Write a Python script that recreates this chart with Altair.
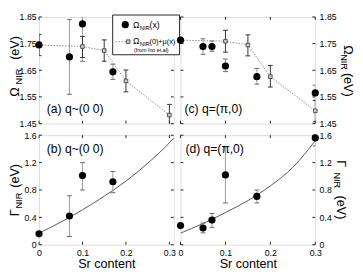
import altair as alt
import pandas as pd

# ---------------- data ----------------
sr_ticks = [0.0, 0.1, 0.2, 0.3]
om_ticks = [1.45, 1.55, 1.65, 1.75, 1.85]
gam_ticks = [0.0, 0.4, 0.8, 1.2, 1.6]

# (a) q~(0 0): Omega_NIR(x)
a_sr = [0.0, 0.07, 0.10, 0.17]
a_om = [1.745, 1.700, 1.824, 1.644]
a_lo = [None, 1.560, 1.684, 1.616]
a_hi = [None, 1.840, 1.964, 1.673]
# (a) Omega_NIR(0)+mu(x) (Ino et al.)
a_ino_sr = [0.0, 0.10, 0.15, 0.20, 0.30]
a_ino_om = [1.745, 1.739, 1.724, 1.610, 1.482]
a_ino_lo = [1.705, 1.698, 1.684, 1.569, 1.442]
a_ino_hi = [1.785, 1.777, 1.764, 1.651, 1.522]

# (c) q=(pi,0)
c_sr = [0.0, 0.05, 0.07, 0.10, 0.17, 0.30]
c_om = [1.763, 1.739, 1.739, 1.666, 1.626, 1.565]
c_lo = [None, 1.710, 1.721, 1.645, 1.598, 1.537]
c_hi = [None, 1.768, 1.760, 1.692, 1.657, 1.594]
c_ino_sr = [0.0, 0.10, 0.15, 0.20, 0.30]
c_ino_om = [1.763, 1.759, 1.745, 1.626, 1.498]
c_ino_lo = [None, 1.718, 1.704, 1.587, 1.457]
c_ino_hi = [None, 1.800, 1.783, 1.668, 1.537]

# (b) q~(0 0): Gamma_NIR
b_sr = [0.0, 0.07, 0.10, 0.17]
b_gam = [0.16, 0.42, 1.01, 0.92]
b_lo = [None, 0.12, 0.80, 0.76]
b_hi = [None, 0.715, 1.20, 1.07]
b_fit_sr = [0.0, 0.05, 0.10, 0.15, 0.20, 0.25, 0.30, 0.31]
b_fit_gam = [0.17, 0.33, 0.51, 0.71, 0.93, 1.19, 1.49, 1.56]

# (d) q=(pi,0): Gamma_NIR
d_sr = [0.0, 0.05, 0.07, 0.10, 0.17, 0.30]
d_gam = [0.28, 0.245, 0.36, 1.02, 0.706, 1.56]
d_lo = [None, 0.174, 0.254, 0.61, 0.61, 1.445]
d_hi = [None, 0.315, 0.456, 1.43, 0.80, 1.675]
d_fit_sr = [0.0, 0.05, 0.10, 0.15, 0.20, 0.25, 0.30]
d_fit_gam = [0.17, 0.31, 0.47, 0.645, 0.86, 1.13, 1.52]

# ---------------- styling ----------------
FONT = "Liberation Sans"
FRAME = "#222222"
W = 139
H_TOP = 110
H_BOT = 113
ONE = pd.DataFrame({"d": [0]})


def err_tbl(x, lo, hi):
    rows = [{"x": a, "lo": b, "hi": c} for a, b, c in zip(x, lo, hi) if b is not None]
    return pd.DataFrame(rows)


def txt(s, x, y, size, angle=0, align="left", baseline="alphabetic", color="black"):
    kw = dict(text=s, font=FONT, fontSize=size, align=align, baseline=baseline, color=color)
    if angle:
        kw["angle"] = angle
    return alt.Chart(ONE).mark_text(**kw).encode(x=alt.value(x), y=alt.value(y))


def panel(h, xdom, ydom, yticks, yexpr, yorient, xlabels, circ, circ_err,
          ino=None, ino_err=None, fit=None, extra=()):
    xs = alt.Scale(domain=xdom, nice=False, zero=False)
    ys = alt.Scale(domain=ydom, nice=False, zero=False)
    if xlabels:
        xax = alt.Axis(values=sr_ticks,
                       labelExpr="datum.value == 0 ? '0' : format(datum.value, '.1f')",
                       ticks=False, domain=False, grid=False, labelFlush=False,
                       title="Sr content", titleFont=FONT, titleFontSize=13,
                       titleFontWeight="normal", titleColor="black", titlePadding=1,
                       labelFont=FONT, labelFontSize=9, labelPadding=4, labelColor="black")
    else:
        xax = None
    yax = alt.Axis(values=yticks, labelExpr=yexpr, orient=yorient, ticks=False,
                   domain=False, grid=False, title=None, labelFont=FONT,
                   labelFontSize=9, labelPadding=3 if yorient == "left" else 4,
                   labelColor="black")

    def X(f):
        return alt.X(f, type="quantitative", scale=xs, axis=xax)

    def Y(f):
        return alt.Y(f, type="quantitative", scale=ys, axis=yax)

    xt = pd.DataFrame({"t": sr_ticks})
    yt = pd.DataFrame({"t": yticks})
    layers = [
        alt.Chart(xt).mark_rule(color=FRAME).encode(x=X("t"), y=alt.value(h), y2=alt.value(h - 3)),
        alt.Chart(xt).mark_rule(color=FRAME).encode(x=X("t"), y=alt.value(0), y2=alt.value(3)),
        alt.Chart(yt).mark_rule(color=FRAME).encode(y=Y("t"), x=alt.value(0), x2=alt.value(3)),
        alt.Chart(yt).mark_rule(color=FRAME).encode(y=Y("t"), x=alt.value(W - 3), x2=alt.value(W)),
    ]
    if fit is not None:
        layers.append(alt.Chart(fit).mark_line(color="#555555", strokeWidth=1,
                                               interpolate="monotone", clip=True)
                      .encode(x=X("x"), y=Y("y")))
    # error bars of the circles
    layers.append(alt.Chart(circ_err).mark_rule(color="#9a9a9a", strokeWidth=1, clip=True)
                  .encode(x=X("x"), y=Y("lo"), y2="hi"))
    for col in ("lo", "hi"):
        layers.append(alt.Chart(circ_err).mark_point(shape="stroke", size=25, color="#666666",
                                                     strokeWidth=1, opacity=1, clip=True)
                      .encode(x=X("x"), y=Y(col)))
    if ino is not None:
        layers.append(alt.Chart(ino).mark_line(color="#8a8a8a", strokeWidth=1,
                                               strokeDash=[1.5, 1.5], clip=True)
                      .encode(x=X("x"), y=Y("y")))
        layers.append(alt.Chart(ino_err).mark_rule(color="#333333", strokeWidth=1, clip=True)
                      .encode(x=X("x"), y=Y("lo"), y2="hi"))
        for col in ("lo", "hi"):
            layers.append(alt.Chart(ino_err).mark_point(shape="stroke", size=25, color="#333333",
                                                        strokeWidth=1, opacity=1, clip=True)
                          .encode(x=X("x"), y=Y(col)))
        layers.append(alt.Chart(ino).mark_point(shape="square", size=14, filled=True,
                                                fill="#cccccc", stroke="#444444",
                                                strokeWidth=0.9, opacity=1)
                      .encode(x=X("x"), y=Y("y")))
    layers.append(alt.Chart(circ).mark_point(shape="circle", size=55, filled=True,
                                             color="black", opacity=1)
                  .encode(x=X("x"), y=Y("y")))
    layers.extend(extra)
    return alt.layer(*layers).properties(width=W, height=h)


OM_EXPR = "format(datum.value, '.2f')"
GAM_EXPR = "datum.value == 0 ? '0' : format(datum.value, '.1f')"

# legend (inside panel a)
legend = [
    alt.Chart(ONE).mark_rect(fill="white", stroke=FRAME, strokeWidth=1)
    .encode(x=alt.value(76), x2=alt.value(145), y=alt.value(-2), y2=alt.value(39)),
    alt.Chart(ONE).mark_point(shape="circle", size=55, filled=True, color="black", opacity=1)
    .encode(x=alt.value(89), y=alt.value(8)),
    txt("Ω", 97, 11, 9), txt("NIR", 104, 13, 6), txt("(x)", 114, 11, 9),
    alt.Chart(ONE).mark_rule(color="#8a8a8a", strokeDash=[1.5, 1.5])
    .encode(x=alt.value(79), x2=alt.value(93), y=alt.value(25.5)),
    alt.Chart(ONE).mark_point(shape="square", size=14, filled=True, fill="#cccccc",
                              stroke="#444444", strokeWidth=0.9, opacity=1)
    .encode(x=alt.value(92), y=alt.value(25.5)),
    txt("Ω", 97, 28, 9), txt("NIR", 104, 30, 6), txt("(0)+μ(x)", 114, 28, 7.5),
    txt("(from Ino et.al)", 98, 36, 5.5),
]

pa = panel(H_TOP, [0, 0.31], [1.45, 1.85], om_ticks, OM_EXPR, "left", False,
           pd.DataFrame({"x": a_sr, "y": a_om}), err_tbl(a_sr, a_lo, a_hi),
           ino=pd.DataFrame({"x": a_ino_sr, "y": a_ino_om}),
           ino_err=err_tbl(a_ino_sr, a_ino_lo, a_ino_hi),
           extra=legend + [
               txt("(a) q~(0 0)", 8, 99, 12.5),
               txt("Ω", -21, 77.5, 13, angle=270, align="center"),
               txt("NIR", -18, 61.5, 9.5, angle=270, align="center"),
               txt("(eV)", -21, 32, 13, angle=270, align="center"),
           ])

pc = panel(H_TOP, [0, 0.3], [1.45, 1.85], om_ticks, OM_EXPR, "right", False,
           pd.DataFrame({"x": c_sr, "y": c_om}), err_tbl(c_sr, c_lo, c_hi),
           ino=pd.DataFrame({"x": c_ino_sr, "y": c_ino_om}),
           ino_err=err_tbl(c_ino_sr, c_ino_lo, c_ino_hi),
           extra=[
               txt("(c) q=(π,0)", 4, 99, 12.5),
               txt("Ω", W + 30, 34, 13, angle=90, align="center"),
               txt("NIR", W + 27, 46.5, 9.5, angle=90, align="center"),
               txt("(eV)", W + 30, 70, 13, angle=90, align="center"),
           ])

pb = panel(H_BOT, [0, 0.31], [0, 1.6], gam_ticks, GAM_EXPR, "left", True,
           pd.DataFrame({"x": b_sr, "y": b_gam}), err_tbl(b_sr, b_lo, b_hi),
           fit=pd.DataFrame({"x": b_fit_sr, "y": b_fit_gam}),
           extra=[
               txt("(b) q~(0 0)", 8, 18.5, 12.5),
               txt("Γ", -21, 80, 13, angle=270, align="center"),
               txt("NIR", -18, 67.5, 9.5, angle=270, align="center"),
               txt("(eV)", -21, 42, 13, angle=270, align="center"),
           ])

pd_ = panel(H_BOT, [0, 0.3], [0, 1.6], gam_ticks, GAM_EXPR, "right", True,
            pd.DataFrame({"x": d_sr, "y": d_gam}), err_tbl(d_sr, d_lo, d_hi),
            fit=pd.DataFrame({"x": d_fit_sr, "y": d_fit_gam}),
            extra=[
                txt("(d) q=(π,0)", 5, 18.5, 12.5),
                txt("Γ", W + 22, 29.5, 13, angle=90, align="center"),
                txt("NIR", W + 19, 46.5, 9.5, angle=90, align="center"),
                txt("(eV)", W + 22, 74.5, 13, angle=90, align="center"),
            ])

chart = (
    alt.concat(pa, pc, pb, pd_, columns=2, spacing={"row": 12, "column": 7}, bounds="flush")
    .properties(padding=0)
    .configure_view(stroke=FRAME, strokeWidth=1)
    .configure(font=FONT)
)

chart.save("out.html", embed_options={"renderer": "svg", "actions": False})
